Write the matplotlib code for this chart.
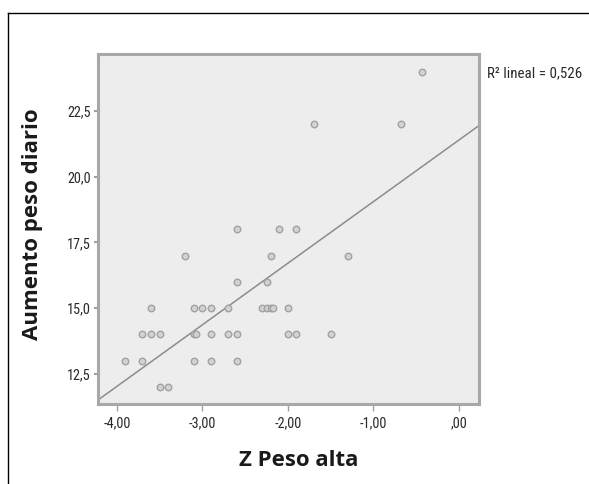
import numpy as np
import matplotlib
matplotlib.use('Agg')
import matplotlib.pyplot as plt
from matplotlib import font_manager
from matplotlib.lines import Line2D

# === Data ===
z_peso_alta = [
    -0.43,
    -1.70, -0.68,
    -2.60, -2.10, -1.90,
    -3.20, -2.20, -1.30,
    -2.60, -2.24,
    -3.60, -3.10, -3.00, -2.90, -2.70, -2.30, -2.25, -2.20, -2.18, -2.00,
    -3.70, -3.60, -3.50, -3.10, -3.08, -2.90, -2.70, -2.60, -2.00, -1.90, -1.50,
    -3.90, -3.70, -3.10, -2.90, -2.60,
    -3.50, -3.40,
]
aumento_peso = [
    24,
    22, 22,
    18, 18, 18,
    17, 17, 17,
    16, 16,
    15, 15, 15, 15, 15, 15, 15, 15, 15, 15,
    14, 14, 14, 14, 14, 14, 14, 14, 14, 14, 14,
    13, 13, 13, 13, 13,
    12, 12,
]
x_ticks = [-4, -3, -2, -1, 0]
x_tick_labels = ['-4,00', '-3,00', '-2,00', '-1,00', ',00']
y_ticks = [12.5, 15.0, 17.5, 20.0, 22.5]
y_tick_labels = ['12,5', '15,0', '17,5', '20,0', '22,5']
r2_label = 'R\u00b2 lineal = 0,526'

x_lim = (-4.22, 0.234)
y_lim = (11.35, 24.67)

# === Fonts: pick a condensed face if one is installed ===
entries = font_manager.fontManager.ttflist
names = {f.name for f in entries}
narrow_kw = {'family': ['DejaVu Sans'], 'fontstretch': 'condensed'}
for cand in ['Liberation Sans Narrow', 'Roboto Condensed', 'Open Sans Condensed']:
    if cand in names:
        narrow_kw = {'family': [cand, 'DejaVu Sans'], 'fontstretch': 'normal'}
        break
has_condensed = narrow_kw['family'][0] != 'DejaVu Sans' or any(
    f.name == 'DejaVu Sans' and 'condensed' in str(f.stretch) for f in entries)
tick_size = 10.3 if has_condensed else 8.5
r2_size = 10.8 if has_condensed else 8.5

bold_font = ['Open Sans', 'DejaVu Sans']

# === Plot Setup ===
fig = plt.figure(figsize=(5.89, 4.84), dpi=100)
ax = fig.add_axes([98 / 589, 1 - 404 / 484, 381 / 589, 350 / 484])
ax.set_facecolor('#ededed')

# scatter
ax.scatter(z_peso_alta, aumento_peso, s=22, facecolor='#d2d2d2',
           edgecolor='#a2a2a2', linewidth=1.0, zorder=3)

# linear fit
slope, intercept = np.polyfit(z_peso_alta, aumento_peso, 1)
fit_x = np.array(x_lim)
ax.plot(fit_x, slope * fit_x + intercept, color='#8c8c8c', linewidth=1.1, zorder=2)

ax.set_xlim(*x_lim)
ax.set_ylim(*y_lim)
ax.set_xticks(x_ticks)
ax.set_xticklabels(x_tick_labels, fontsize=tick_size, color='#2a2a2a', **narrow_kw)
ax.set_yticks(y_ticks)
ax.set_yticklabels(y_tick_labels, fontsize=tick_size, color='#2a2a2a', **narrow_kw)
ax.tick_params(axis='x', length=5, width=1, color='#a0a0a0', pad=4)
ax.tick_params(axis='y', length=3, width=1.5, color='#a0a0a0', pad=2)

for spine in ax.spines.values():
    spine.set_color('#a8a8a8')
    spine.set_linewidth(2.2)

# axis titles
fig.text(299 / 589, 1 - 461 / 484, 'Z Peso alta', family=bold_font, fontweight='bold',
         fontsize=16, ha='center', va='center', color='#1a1a1a')
fig.text(33 / 589, 1 - 224 / 484, 'Aumento peso diario', family=bold_font, fontweight='bold',
         fontsize=16, ha='center', va='center', rotation=90, color='#1a1a1a')

# R2 annotation
fig.text(487 / 589, 1 - 73 / 484, r2_label, fontsize=r2_size,
         ha='left', va='center', color='#2a2a2a', **narrow_kw)

# outer frame (cut at right and bottom)
fig.add_artist(Line2D([8 / 589, 1.0], [1 - 13 / 484, 1 - 13 / 484],
                      transform=fig.transFigure, color='black', linewidth=1))
fig.add_artist(Line2D([8 / 589, 8 / 589], [0.0, 1 - 13 / 484],
                      transform=fig.transFigure, color='black', linewidth=1))

fig.savefig('out.png', dpi=100)
